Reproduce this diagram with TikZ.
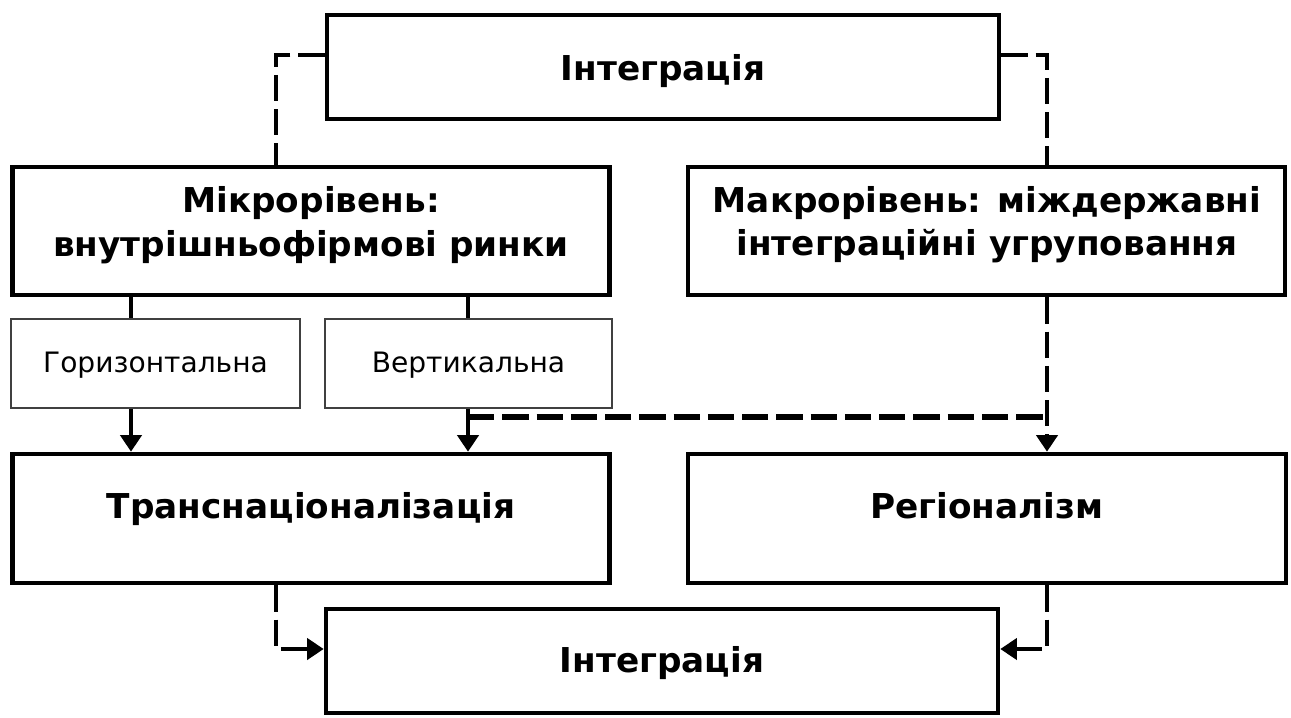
\documentclass[tikz,border=0pt]{standalone}
\usepackage{fontspec}
\setmainfont{DejaVu Sans}
\usetikzlibrary{arrows.meta}
\newdimen\pxu \pxu=0.02cm
\begin{document}
\begin{tikzpicture}[x=0.02cm,y=-0.02cm,
  bigbox/.style={draw, line width=2.6pt, minimum height=128\pxu, minimum width=597\pxu, inner sep=0pt},
  intbox/.style={draw, line width=2.6pt, minimum height=104\pxu, minimum width=672\pxu, inner sep=0pt},
  smallbox/.style={draw=black!75, line width=0.9pt, minimum height=89\pxu, inner sep=0pt},
  btxt/.style={font=\bfseries\fontsize{19.5}{24}\selectfont, anchor=base, inner sep=0pt},
  ntxt/.style={font=\fontsize{16}{18}\selectfont, anchor=base, inner sep=0pt},
  conn/.style={line width=2.4pt},
  dconn/.style={line width=2.4pt, dash pattern=on 15pt off 4.5pt},
  tip/.style={-{Triangle[width=12pt,length=9.5pt]}}
]
\useasboundingbox (0,0) rectangle (1291,717);
\fill[white] (0,0) rectangle (1291,717);

% boxes
\node[intbox] (topI) at (663,67) {};
\node[bigbox] (micro) at (311,231) {};
\node[bigbox] (macro) at (986.5,231) {};
\node[smallbox, minimum width=289\pxu] (horiz) at (155.5,363.5) {};
\node[smallbox, minimum width=287\pxu] (vert) at (468.5,363.5) {};
\node[bigbox, minimum height=129\pxu] (trans) at (311,518.5) {};
\node[bigbox, minimum height=129\pxu, minimum width=598\pxu] (reg) at (987,518.5) {};
\node[intbox] (botI) at (662,661) {};

% texts
\node[btxt] (tTopI) at (663,80) {Інтеграція};
\node[btxt] (tMicro1) at (311,212) {Мікрорівень:};
\node[btxt] (tMicro2) at (311,256) {внутрішньофірмові ринки};
\node[btxt] (tMacro1) at (987,212) {Макрорівень: міждержавні};
\node[btxt] (tMacro2) at (987,255) {інтеграційні угруповання};
\node[ntxt] (tHoriz) at (155.5,372) {Горизонтальна};
\node[ntxt] (tVert) at (468.5,372) {Вертикальна};
\node[btxt] (tTrans) at (311,518) {Транснаціоналізація};
\node[btxt] (tReg) at (987,518) {Регіоналізм};
\node[btxt] (tBotI) at (662,672) {Інтеграція};

% helper coordinates
\coordinate (cl) at (276,55);
\coordinate (cr) at (1047,55);
\coordinate (ca) at (131,0);
\coordinate (cb) at (468,0);
\coordinate (hy) at (0,417);
\coordinate (ay) at (0,649);

% connectors
\draw[dconn] (topI.west |- cl) -| (micro.north -| cl);
\draw[dconn] (topI.east |- cr) -| (macro.north -| cr);
\draw[conn] (micro.south -| ca) -- (horiz.north -| ca);
\draw[conn] (micro.south -| cb) -- (vert.north -| cb);
\draw[conn,tip] (horiz.south -| ca) -- (trans.north -| ca);
\draw[conn,tip] (vert.south -| cb) -- (trans.north -| cb);
\draw[dconn,tip] (macro.south -| cr) -- (reg.north -| cr);
\draw[dconn,line width=3pt] (cb |- hy) -- (cr |- hy);
\draw[dconn,tip] (trans.south -| cl) |- (botI.west |- ay);
\draw[dconn,tip] (reg.south -| cr) |- (botI.east |- ay);
\end{tikzpicture}
\end{document}
